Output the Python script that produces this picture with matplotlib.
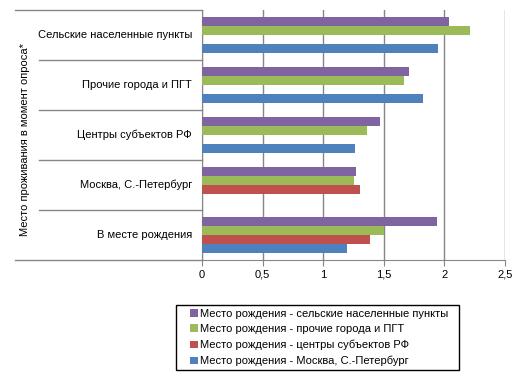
import numpy as np
import matplotlib.pyplot as plt
from matplotlib.patches import Patch, Rectangle

plt.rcParams['font.family'] = ['Liberation Sans', 'DejaVu Sans']

# categories from bottom to top
categories = ['В месте рождения', 'Москва, С.-Петербург', 'Центры субъектов РФ',
              'Прочие города и ПГТ', 'Сельские населенные пункты']
series_names = ['Место рождения - сельские населенные пункты',
                'Место рождения - прочие города и ПГТ',
                'Место рождения - центры субъектов РФ',
                'Место рождения - Москва, С.-Петербург']
rural = [1.94, 1.27, 1.47, 1.71, 2.04]
other_cities = [1.50, 1.255, 1.36, 1.67, 2.21]
region_centers = [1.39, 1.305, np.nan, np.nan, np.nan]
capitals = [1.20, np.nan, 1.26, 1.82, 1.95]
colors = ['#8064A2', '#9BBB59', '#C0504D', '#4F81BD']
xticks = [0, 0.5, 1, 1.5, 2, 2.5]

fig = plt.figure(figsize=(5.27, 3.75), dpi=100)
ax = fig.add_axes([202/527, 1-260/375, 303/527, 250/375])

y = np.arange(len(categories))
h = 0.18
offsets = [0.27, 0.09, -0.09, -0.27]
for vals, off, c in zip([rural, other_cities, region_centers, capitals], offsets, colors):
    ax.barh(y + off, vals, height=h, color=c, zorder=3)

ax.set_xlim(0, 2.5)
ax.set_ylim(-0.5, len(categories) - 0.5)
ax.set_xticks(xticks)
ax.set_xticklabels([str(t).replace('.', ',').replace(',0', '') for t in xticks], fontsize=8)
ax.grid(axis='x', color='#868686', linewidth=1)
ax.set_yticks([])
for s in ['top', 'right']:
    ax.spines[s].set_visible(False)
for s in ['left', 'bottom']:
    ax.spines[s].set_color('#868686')
ax.tick_params(axis='x', length=4, color='#868686', pad=3)

# category labels and separators (multi-level axis look)
trans = ax.get_yaxis_transform()
for i, name in enumerate(categories):
    ax.text(-10/303, y[i], name, transform=trans, ha='right', va='center', fontsize=8)
bounds = np.arange(len(categories) + 1) - 0.5
for b in bounds:
    x0 = -187/303 if b in (bounds[0], bounds[-1]) else -163/303
    ax.plot([x0, 0], [b, b], transform=trans, color='#868686', lw=1, clip_on=False)

fig.text(25/527, 1-140/375, 'Место проживания в момент опроса*', rotation=90,
         ha='center', va='center', fontsize=8)

# legend box
fig.add_artist(Rectangle((176/527, 1-370/375), 283/527, 65/375, transform=fig.transFigure,
                         facecolor='none', edgecolor='black', lw=1))
handles = [Patch(facecolor=c) for c in colors]
leg = fig.legend(handles, series_names, loc='center left',
                 bbox_to_anchor=(190/527, 1-337.5/375), fontsize=8,
                 handlelength=0.7, handleheight=0.7, handletextpad=0.2,
                 labelspacing=0.5, borderpad=0, borderaxespad=0,
                 frameon=False)

fig.savefig('out.png', dpi=100)
